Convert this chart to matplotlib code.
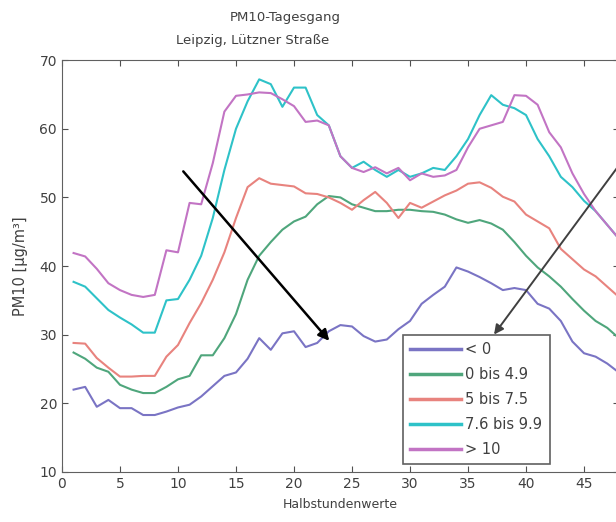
import numpy as np
import matplotlib.pyplot as plt

# Halbstundenwerte 1..48
x = np.arange(1, 49)

lt0 = [22, 22.4, 19.5, 20.5, 19.3, 19.3, 18.3, 18.3, 18.8, 19.4, 19.8, 21,
       22.5, 24, 24.5, 26.5, 29.5, 27.8, 30.2, 30.5, 28.2, 28.8, 30.5, 31.4,
       31.2, 29.8, 29, 29.3, 30.8, 32, 34.5, 35.8, 37, 39.8, 39.2, 38.4,
       37.5, 36.5, 36.8, 36.5, 34.5, 33.8, 32, 29, 27.3, 26.8, 25.8, 24.5]
b0_49 = [27.4, 26.5, 25.2, 24.6, 22.7, 22, 21.5, 21.5, 22.4, 23.5, 24, 27,
         27, 29.5, 33, 38, 41.5, 43.5, 45.3, 46.5, 47.2, 49, 50.2, 50,
         49, 48.5, 48, 48, 48.2, 48.2, 48, 47.9, 47.5, 46.8, 46.3, 46.7,
         46.2, 45.3, 43.5, 41.5, 39.8, 38.5, 37, 35.2, 33.5, 32, 31, 29.5]
b5_75 = [28.8, 28.7, 26.6, 25.2, 23.9, 23.9, 24, 24, 26.8, 28.5, 31.7, 34.6,
         38, 42, 47, 51.5, 52.8, 52, 51.8, 51.6, 50.6, 50.5, 50, 49.2,
         48.2, 49.6, 50.8, 49.2, 47, 49.2, 48.5, 49.4, 50.3, 51, 52, 52.2,
         51.4, 50.1, 49.4, 47.5, 46.5, 45.5, 42.5, 41, 39.5, 38.5, 37, 35.5]
b76_99 = [37.7, 37, 35.3, 33.6, 32.5, 31.5, 30.3, 30.3, 35, 35.2, 38, 41.5,
          47, 54, 60, 64, 67.2, 66.5, 63.2, 66, 66, 62, 60.5, 56,
          54.3, 55.2, 54, 53, 54, 53, 53.5, 54.3, 54, 56, 58.5, 62,
          64.9, 63.5, 63, 62, 58.5, 56, 53, 51.5, 49.5, 48, 46, 44]
gt10 = [41.9, 41.4, 39.6, 37.5, 36.5, 35.8, 35.5, 35.8, 42.3, 42, 49.2, 49,
        55, 62.5, 64.8, 65, 65.3, 65.2, 64.3, 63.3, 61, 61.2, 60.5, 56,
        54.3, 53.7, 54.4, 53.5, 54.3, 52.5, 53.5, 53, 53.2, 54, 57.3, 60,
        60.5, 61, 64.9, 64.8, 63.5, 59.5, 57.3, 53.5, 50.5, 48, 46, 44]

labels = ["< 0", "0 bis 4.9", "5 bis 7.5", "7.6 bis 9.9", "> 10"]
colors = ["#7a74c4", "#4fa67c", "#e8837e", "#2ec2c8", "#c274c4"]

fig = plt.figure(figsize=(6.16, 5.22), dpi=100)
ax = fig.add_axes([0.1006, 0.0958, 0.904, 0.789])

for ys, lab, c in zip([lt0, b0_49, b5_75, b76_99, gt10], labels, colors):
    ax.plot(x, ys, color=c, lw=1.5, label=lab)

ax.set_xlim(0, 48)
ax.set_ylim(10, 70)
ax.set_xticks(range(0, 50, 5))
ax.set_yticks(range(10, 80, 10))
ax.tick_params(direction="in", top=True, right=True, labelsize=10,
               colors="#505050", labelcolor="#404040", length=4)
for s in ax.spines.values():
    s.set_color("#606060")

ax.set_xlabel("Halbstundenwerte", fontsize=9, color="#404040", labelpad=5)
ax.set_ylabel("PM10 [µg/m³]", fontsize=10.5, color="#404040", labelpad=8)

fig.text(0.463, 0.967, "PM10-Tagesgang", ha="center", va="center",
         fontsize=9.5, color="#404040")
fig.text(0.41, 0.923, "Leipzig, Lützner Straße", ha="center", va="center",
         fontsize=9.5, color="#404040")

# arrows
ax.annotate("", xy=(23.2, 28.8), xytext=(10.3, 54.1),
            arrowprops=dict(arrowstyle="-|>", color="black", lw=1.8,
                            mutation_scale=16))
ax.annotate("", xy=(37.1, 29.7), xytext=(48.5, 55.8),
            arrowprops=dict(arrowstyle="-|>", color="#404040", lw=1.4,
                            mutation_scale=14), annotation_clip=False)

leg = ax.legend(loc="upper left", bbox_to_anchor=(0.612, 0.3325),
                borderaxespad=0, fontsize=10.5, handlelength=3.5,
                handletextpad=0.3, labelspacing=0.68, borderpad=0.5,
                fancybox=False, framealpha=1)
leg.get_frame().set_edgecolor("#606060")
leg.get_frame().set_linewidth(1.2)
for t in leg.get_texts():
    t.set_color("#404040")
for l in leg.get_lines():
    l.set_linewidth(2.5)

fig.savefig("out.png", dpi=100)
